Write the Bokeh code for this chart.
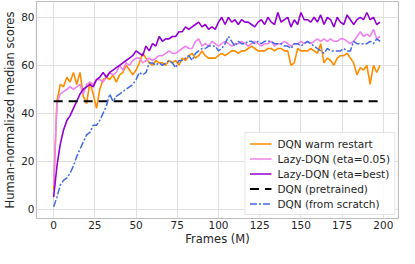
from bokeh.plotting import figure
from bokeh.models import FixedTicker
from bokeh.embed import file_html
from bokeh.resources import INLINE

frames = list(range(0, 200, 2))

warm_restart = [8, 45, 52, 51, 55, 53, 57, 52, 57, 47,
                44, 53, 48, 42, 50, 54, 55, 54, 56, 53,
                56, 57, 60, 58, 56, 58, 61, 65, 63, 61,
                60, 62, 61, 61, 60, 62, 61, 62, 60, 63,
                62, 64, 65, 63, 64, 66, 64, 63, 63, 63,
                64, 65, 64, 65, 66, 66, 65, 66, 66, 67,
                68, 67, 66, 66, 66, 67, 67, 66, 67, 67,
                66, 66, 60, 61, 67, 66, 66, 66, 67, 66,
                65, 69, 61, 63, 62, 60, 63, 64, 64, 65,
                63, 61, 56, 59, 58, 60, 52, 60, 57, 60]

lazy_005 = [10, 44, 48, 49, 50, 51, 50, 51, 52, 48,
            52, 53, 52, 54, 54, 53, 55, 57, 56, 57,
            60, 58, 61, 60, 62, 63, 63, 61, 62, 63,
            62, 63, 64, 64, 65, 66, 65, 65, 66, 67,
            68, 67, 67, 70, 71, 68, 69, 68, 70, 69,
            68, 69, 70, 69, 68, 69, 69, 70, 69, 68,
            69, 70, 69, 68, 69, 69, 70, 68, 69, 69,
            70, 69, 68, 69, 69, 70, 69, 70, 69, 70,
            71, 70, 71, 70, 71, 70, 70, 71, 71, 70,
            69, 70, 72, 74, 72, 73, 72, 75, 71, 72]

lazy_best = [5, 18, 27, 33, 37, 39, 42, 45, 48, 50,
             51, 52, 51, 54, 55, 57, 55, 57, 58, 59,
             60, 61, 62, 63, 64, 66, 65, 64, 68, 66,
             69, 68, 72, 70, 71, 71, 72, 72, 74, 74,
             76, 75, 76, 77, 78, 76, 77, 75, 76, 75,
             78, 80, 77, 80, 78, 79, 77, 79, 78, 78,
             77, 76, 78, 79, 77, 80, 78, 77, 82, 78,
             79, 80, 76, 79, 77, 82, 79, 79, 78, 80,
             78, 81, 77, 80, 79, 76, 80, 78, 77, 81,
             79, 77, 79, 80, 79, 82, 79, 80, 77, 78]

pretrained_x = [0, 198]
pretrained = [45, 45]

scratch = [1, 5, 10, 12, 13, 15, 18, 22, 25, 28,
           31, 32, 35, 35, 37, 40, 43, 48, 45, 47,
           48, 49, 50, 51, 52, 54, 57, 56, 57, 61,
           61, 60, 61, 60, 61, 62, 61, 59, 62, 62,
           63, 64, 62, 65, 66, 67, 67, 68, 68, 68,
           66, 67, 69, 72, 70, 68, 70, 69, 69, 70,
           70, 69, 70, 69, 70, 70, 70, 69, 69, 69,
           68, 68, 67, 69, 69, 68, 69, 70, 69, 68,
           67, 66, 65, 67, 66, 66, 66, 66, 67, 66,
           66, 70, 69, 69, 69, 69, 70, 69, 71, 70]

x_ticks = [0, 25, 50, 75, 100, 125, 150, 175, 200]
y_ticks = [0, 20, 40, 60, 80]

FONT = "DejaVu Sans"
TXT = "#262626"

p = figure(width=399, height=248, x_range=(-10.4, 209.2), y_range=(-3.9, 86.6),
           output_backend="svg", toolbar_location=None,
           min_border_top=1, min_border_right=1, min_border_left=0, min_border_bottom=0)

p.line(frames, warm_restart, color="#ff8c00", line_width=1.6, legend_label="DQN warm restart")
p.line(frames, lazy_005, color="#ee82ee", line_width=1.6, legend_label="Lazy-DQN (eta=0.05)")
p.line(frames, lazy_best, color="#9400d3", line_width=1.6, legend_label="Lazy-DQN (eta=best)")
p.line(pretrained_x, pretrained, color="black", line_width=2, line_dash="9 6",
       legend_label="DQN (pretrained)")
p.line(frames, scratch, color="#4169e1", line_width=1.5, line_dash="7 2 2 2",
       legend_label="DQN (from scratch)")

p.xaxis.ticker = FixedTicker(ticks=x_ticks)
p.yaxis.ticker = FixedTicker(ticks=y_ticks)
p.xaxis.axis_label = "Frames (M)"
p.yaxis.axis_label = "Human-normalized median scores"

for ax in (p.xaxis[0], p.yaxis[0]):
    ax.axis_line_color = None
    ax.major_tick_line_color = None
    ax.minor_tick_line_color = None
    ax.major_tick_out = 0
    ax.major_tick_in = 0
    ax.minor_tick_out = 0
    ax.major_label_text_font = FONT
    ax.major_label_text_font_size = "10.5px"
    ax.major_label_text_color = TXT
    ax.axis_label_text_font = FONT
    ax.axis_label_text_font_size = "11.5px"
    ax.axis_label_text_font_style = "normal"
    ax.axis_label_text_color = TXT
    ax.major_label_standoff = 2
    ax.axis_label_standoff = 1

p.xaxis.major_label_standoff = 2
p.xaxis.axis_label_standoff = 0

p.xgrid.grid_line_color = "#e0e0e0"
p.ygrid.grid_line_color = "#e0e0e0"
p.outline_line_color = "#bdbdbd"
p.outline_line_width = 1.2
p.background_fill_color = "white"
p.border_fill_color = "white"

lg = p.legend[0]
lg.location = "bottom_right"
lg.margin = 3
lg.padding = 4
lg.spacing = 2
lg.glyph_width = 22
lg.glyph_height = 13
lg.label_height = 13
lg.label_standoff = 6
lg.label_text_font = FONT
lg.label_text_font_size = "10.5px"
lg.label_text_color = TXT
lg.border_line_color = "#cccccc"
lg.border_line_width = 1
lg.background_fill_alpha = 0.85

open("out.html", "w").write(file_html(p, INLINE))
